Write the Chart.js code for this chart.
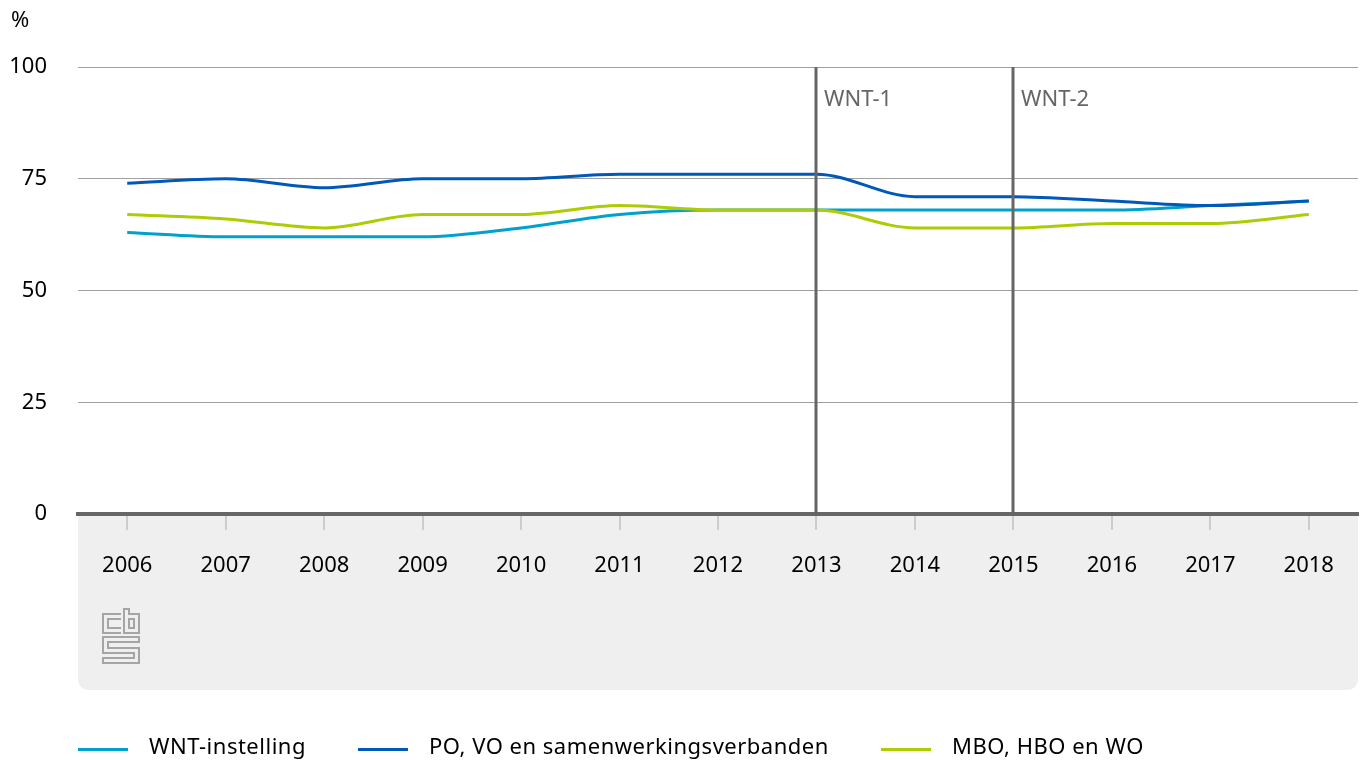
<!DOCTYPE html>
<html>
<head>
<meta charset="utf-8">
<script src="https://cdn.jsdelivr.net/npm/chart.js@4/dist/chart.umd.min.js"></script>
<style>
  html, body { margin: 0; padding: 0; background: #fff; }
  #wrap { position: relative; width: 1360px; height: 760px; }
  #unit { position: absolute; left: 11px; top: 3px; font: 22px "Noto Sans", sans-serif; color: #000; }
  #legend { position: absolute; left: 78px; top: 730px; font: 22px "Noto Sans", sans-serif; color: #000; letter-spacing: 0.5px; }
  .item { position: absolute; top: 0; white-space: nowrap; }
  .swatch { position: absolute; top: 18px; width: 50px; height: 3px; }
  .label { position: absolute; top: 0; }
</style>
</head>
<body>
<div id="wrap">
  <canvas id="myChart" width="1360" height="760"></canvas>
  <div id="unit">%</div>
  <div id="legend"></div>
</div>
<script>
"use strict";

// chart data
const years = ["2006", "2007", "2008", "2009", "2010", "2011", "2012",
               "2013", "2014", "2015", "2016", "2017", "2018"];
const wntInstelling = [63, 62, 62, 62, 64, 67, 68, 68, 68, 68, 68, 69, 70];
const poVo = [74, 75, 73, 75, 75, 76, 76, 76, 71, 71, 70, 69, 70];
const mboHboWo = [67, 66, 64, 67, 67, 69, 68, 68, 64, 64, 65, 65, 67];
const seriesNames = ["WNT-instelling", "PO, VO en samenwerkingsverbanden", "MBO, HBO en WO"];
const yTicks = [0, 25, 50, 75, 100];
const markerYears = ["2013", "2015"];
const markerLabels = ["WNT-1", "WNT-2"];

const colors = ["#00a1cd", "#0058b8", "#afcb05"];
const font = "\"Noto Sans\", sans-serif";

// gray panel behind the x axis labels, marker lines and logo
const decorations = {
    id: "decorations",
    beforeDraw(chart) {
        const ctx = chart.ctx;
        const area = chart.chartArea;
        const bottom = 690;
        const r = 12;
        ctx.save();
        ctx.fillStyle = "#efefef";
        ctx.beginPath();
        ctx.moveTo(area.left, area.bottom);
        ctx.lineTo(area.right, area.bottom);
        ctx.lineTo(area.right, bottom - r);
        ctx.quadraticCurveTo(area.right, bottom, area.right - r, bottom);
        ctx.lineTo(area.left + r, bottom);
        ctx.quadraticCurveTo(area.left, bottom, area.left, bottom - r);
        ctx.closePath();
        ctx.fill();

        // cbs logo
        ctx.strokeStyle = "#a5a5a5";
        ctx.lineWidth = 2;
        const lx = 103, ly = 609;
        ctx.beginPath();
        // c
        ctx.moveTo(lx + 18, ly + 5);
        ctx.lineTo(lx, ly + 5);
        ctx.lineTo(lx + 0, ly + 24);
        ctx.lineTo(lx + 18, ly + 24);
        ctx.moveTo(lx + 18, ly + 10);
        ctx.lineTo(lx + 5, ly + 10);
        ctx.lineTo(lx + 5, ly + 19);
        ctx.lineTo(lx + 18, ly + 19);
        // b
        ctx.moveTo(lx + 21, ly);
        ctx.lineTo(lx + 21, ly + 24);
        ctx.lineTo(lx + 36, ly + 24);
        ctx.lineTo(lx + 36, ly + 5);
        ctx.lineTo(lx + 26, ly + 5);
        ctx.lineTo(lx + 26, ly);
        ctx.closePath();
        ctx.rect(lx + 26, ly + 10, 5, 9);
        // s
        ctx.moveTo(lx + 36, ly + 28);
        ctx.lineTo(lx, ly + 28);
        ctx.lineTo(lx, ly + 44);
        ctx.lineTo(lx + 31, ly + 44);
        ctx.lineTo(lx + 31, ly + 49);
        ctx.lineTo(lx, ly + 49);
        ctx.lineTo(lx, ly + 54);
        ctx.lineTo(lx + 36, ly + 54);
        ctx.lineTo(lx + 36, ly + 39);
        ctx.lineTo(lx + 5, ly + 39);
        ctx.lineTo(lx + 5, ly + 33);
        ctx.lineTo(lx + 36, ly + 33);
        ctx.closePath();
        ctx.stroke();
        ctx.restore();
    },
    afterDatasetsDraw(chart) {
        const ctx = chart.ctx;
        const area = chart.chartArea;
        const x = chart.scales.x;
        ctx.save();
        for (let i = 0; i < markerYears.length; i++) {
            const px = Math.round(x.getPixelForValue(years.indexOf(markerYears[i])));
            ctx.strokeStyle = "#666";
            ctx.lineWidth = 3;
            ctx.beginPath();
            ctx.moveTo(px, area.top);
            ctx.lineTo(px, area.bottom);
            ctx.stroke();
            ctx.fillStyle = "#666";
            ctx.font = "22px " + font;
            ctx.textBaseline = "middle";
            ctx.fillText(markerLabels[i], px + 8, area.top + 33);
        }
        ctx.restore();
    }
};

const datasets = [wntInstelling, poVo, mboHboWo].map((values, i) => ({
    label: seriesNames[i],
    data: values,
    borderColor: colors[i],
    backgroundColor: colors[i],
    borderWidth: 3,
    pointRadius: 0,
    cubicInterpolationMode: "monotone",
    order: [2, 1, 0][i]
}));

const ctx = document.getElementById("myChart").getContext("2d");
const chart = new Chart(ctx, {
    type: "line",
    data: { labels: years, datasets: datasets },
    options: {
        responsive: false,
        animation: false,
        events: [],
        layout: { padding: { top: 67, right: 2, bottom: 70, left: 0 } },
        plugins: { legend: { display: false }, tooltip: { enabled: false } },
        scales: {
            x: {
                offset: true,
                grid: { drawOnChartArea: false, drawTicks: true, tickLength: 16, color: "#cccccc", lineWidth: 2 },
                border: { color: "#666", width: 4 },
                ticks: { color: "#000", font: { family: font, size: 22 }, padding: 23, maxRotation: 0 },
                afterFit(scale) { scale.height = 176; }
            },
            y: {
                min: 0,
                max: 100,
                afterBuildTicks(scale) { scale.ticks = yTicks.map(v => ({ value: v })); },
                grid: { color: "#a0a0a0", lineWidth: 1, drawTicks: false },
                border: { display: false },
                ticks: { color: "#000", font: { family: font, size: 22 }, padding: 31 },
                afterFit(scale) { scale.width = 78; }
            }
        }
    },
    plugins: [decorations]
});

// legend as html
const legend = document.getElementById("legend");
const legendX = [0, 280, 803];
seriesNames.forEach((name, i) => {
    const item = document.createElement("div");
    item.className = "item";
    item.style.left = legendX[i] + "px";
    item.innerHTML = '<div class="swatch" style="background:' + colors[i] + '"></div>' +
        '<div class="label" style="left:71px">' + name + '</div>';
    legend.appendChild(item);
});
</script>
</body>
</html>
